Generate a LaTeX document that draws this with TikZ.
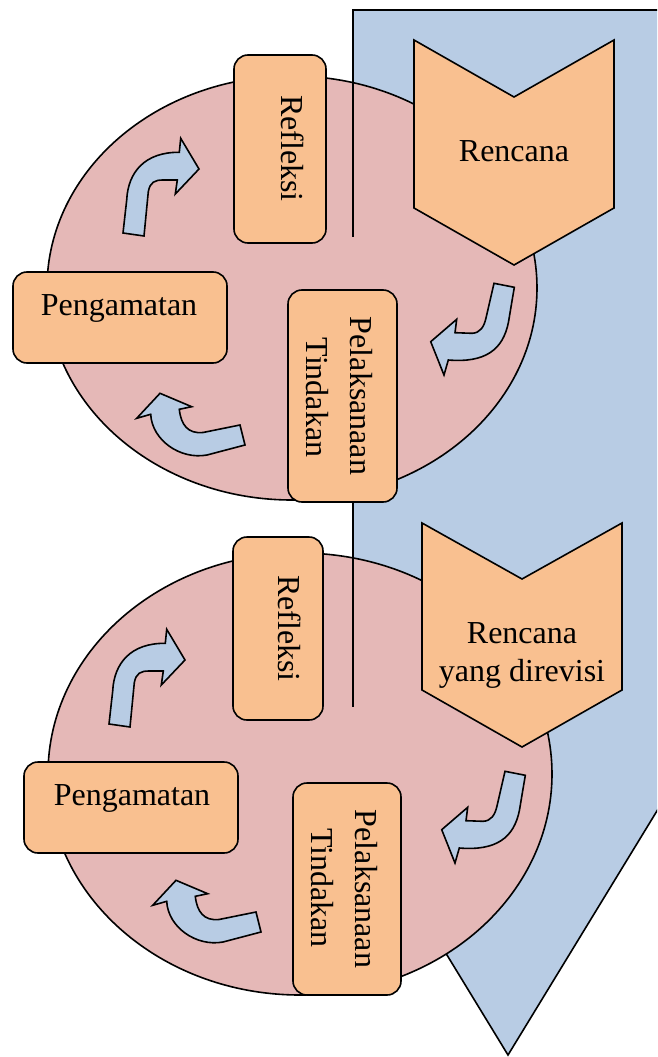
\documentclass[tikz,border=0pt]{standalone}
\usepackage{fontspec}
\setmainfont{Liberation Serif}
\usetikzlibrary{shapes.geometric}
\definecolor{pinkfill}{HTML}{E5B8B7}
\definecolor{bluefill}{HTML}{B8CCE4}
\definecolor{orangefill}{HTML}{F9C090}
\tikzset{
  outl/.style={draw=black, line width=1.6pt},
  cyc/.style={ellipse, draw=black, fill=pinkfill, line width=1.6pt, inner sep=0pt},
  boxnode/.style={draw=black, fill=orangefill, rounded corners=14pt, line width=1.6pt, inner sep=0pt},
  lbl/.style={font=\fontsize{32}{38}\selectfont, inner sep=0pt, anchor=base},
  chev/.style={draw=black, fill=orangefill, line width=1.6pt},
  bendarrow/.style={draw=black, fill=bluefill, line width=1.6pt},
  bigarrow/.style={draw=black, fill=bluefill, line width=1.6pt},
  pics/curlA/.style={code={
    \draw[bendarrow] (123,233) -- (144,236) -- (148.3,191.7)
      .. controls (150,182) and (155,180) .. (163,180) -- (177.3,180)
      -- (175.3,194) -- (199,169) -- (180.7,138.3) -- (179.3,152.3)
      .. controls (145,152) and (128,172) .. (126.7,200) -- cycle;
  }},
  pics/curlB/.style={code={
    \draw[bendarrow] (494,283.3) -- (514.3,287.3) -- (508.5,322)
      .. controls (503,350) and (485,363) .. (448.3,360)
      -- (444,375) -- (430.7,341.7) -- (456.7,319.3) -- (455,332.7)
      -- (472,333.3) .. controls (480,333) and (484,327) .. (486,318) -- cycle;
  }},
  pics/curlC/.style={code={
    \draw[bendarrow] (160,393.3) -- (191.7,406.7) -- (179.3,409.3)
      .. controls (181,425) and (188,434) .. (203,432.5) -- (240,425)
      -- (245,445) -- (207,455)
      .. controls (180,460) and (152,440) .. (150.7,414.3)
      -- (136.7,418.3) -- cycle;
  }}
}
\begin{document}
\begin{tikzpicture}[x=1pt,y=-1pt]
\clip (0,0) rectangle (657,1057);
% big blue down arrow
\draw[bigarrow] (353,10) -- (663,10) -- (663,801) -- (508,1055) -- (353,801) -- cycle;
% cycles
\node[cyc, minimum width=490pt, minimum height=424pt] (e1) at (292,288) {};
\node[cyc, minimum width=504pt, minimum height=442pt] (e2) at (300,774) {};
% vertical lines
\coordinate (l1a) at (353,10);
\coordinate (l1b) at (353,237);
\coordinate (l2a) at (353,480);
\coordinate (l2b) at (353,707);
\draw[outl] (l1a) -- (l1b);
\draw[outl] (l2a) -- (l2b);
% curved arrows
\pic at (0,0) {curlA};
\pic at (0,0) {curlB};
\pic at (0,0) {curlC};
\pic at (-14,491) {curlA};
\pic at (11,488) {curlB};
\pic at (16,487) {curlC};
% boxes (upper cycle)
\node[boxnode, minimum width=92pt, minimum height=188pt] (r1) at (280,149) {};
\node[boxnode, minimum width=214pt, minimum height=91pt] (p1) at (120,317.5) {};
\node[boxnode, minimum width=109pt, minimum height=212pt] (t1) at (342.5,396) {};
% boxes (lower cycle)
\node[boxnode, minimum width=90pt, minimum height=183pt] (r2) at (278,628.5) {};
\node[boxnode, minimum width=214pt, minimum height=91pt] (p2) at (131,807.5) {};
\node[boxnode, minimum width=108pt, minimum height=212pt] (t2) at (347,889) {};
% chevrons
\draw[chev] (414,40) -- (514,97) -- (614,40) -- (614,208) -- (514,265) -- (414,208) -- cycle;
\draw[chev] (422,523) -- (522,579) -- (622,523) -- (622,690) -- (522,747) -- (422,690) -- cycle;
% texts
\node[lbl] (c1) at (514,161) {Rencana};
\node[lbl] (c2a) at (522,643) {Rencana};
\node[lbl] (c2b) at (522,681) {yang direvisi};
\node[lbl, rotate=-90] (r1t) at (281,148.5) {Refleksi};
\node[lbl, rotate=-90] (r2t) at (278,628.5) {Refleksi};
\node[lbl] (p1t) at (119,315) {Pengamatan};
\node[lbl] (p2t) at (132,805) {Pengamatan};
\node[lbl, rotate=-90] (t1a) at (350,396) {Pelaksanaan};
\node[lbl, rotate=-90] (t1b) at (306,397.5) {Tindakan};
\node[lbl, rotate=-90] (t2a) at (355,889) {Pelaksanaan};
\node[lbl, rotate=-90] (t2b) at (311.7,888) {Tindakan};
\end{tikzpicture}
\end{document}
